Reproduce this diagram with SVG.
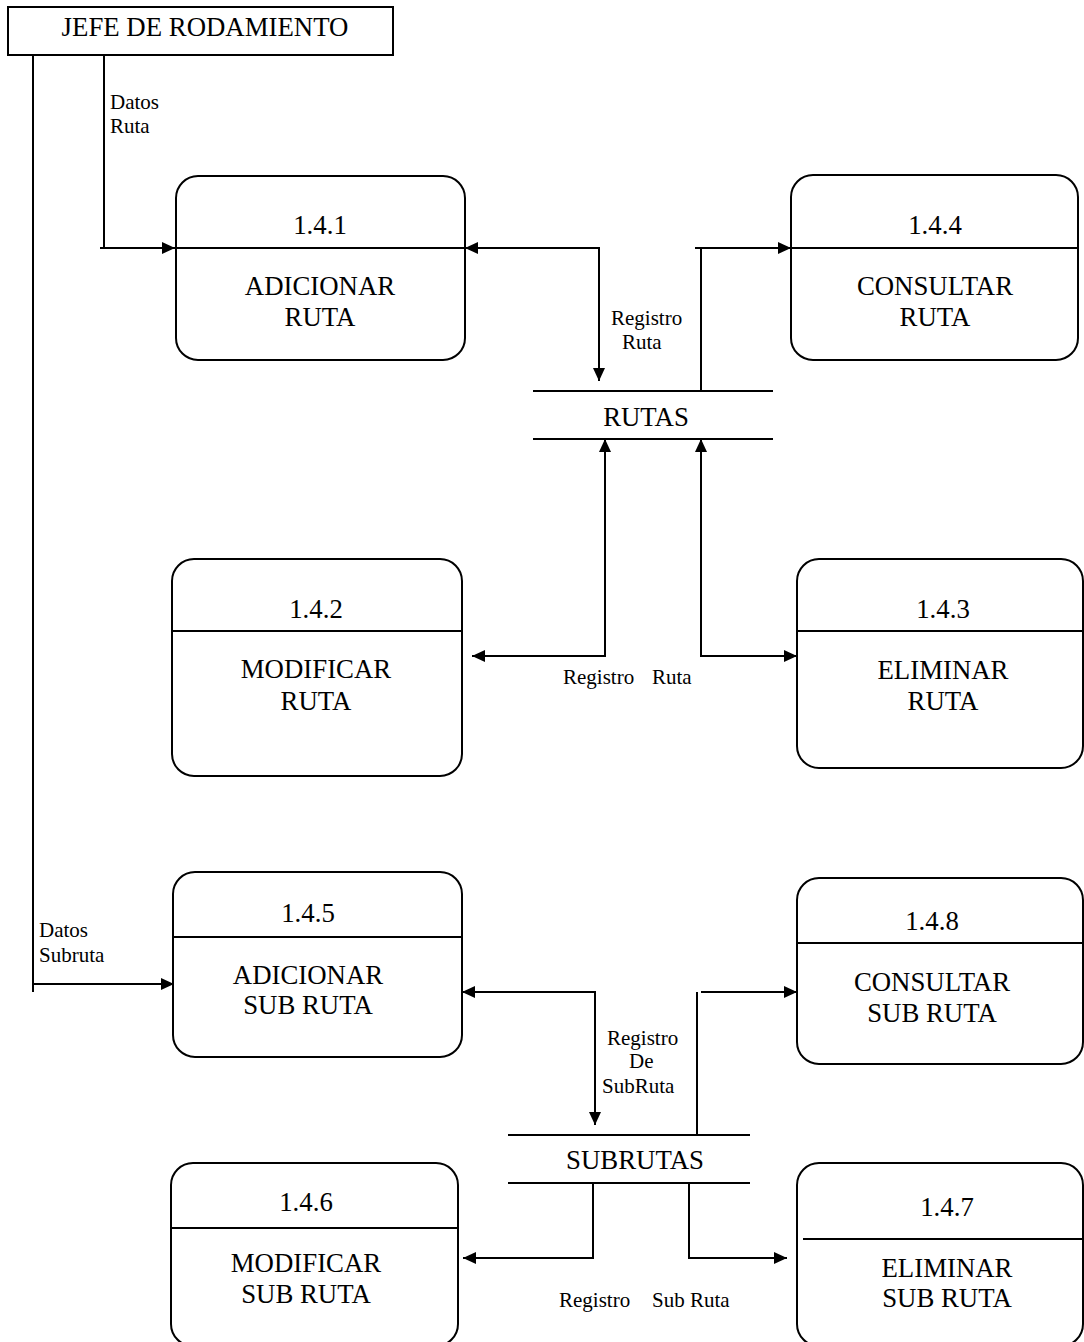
<svg xmlns="http://www.w3.org/2000/svg" width="1084" height="1342" viewBox="0 0 1084 1342">
<style>
  .box{fill:#fff;stroke:#000;stroke-width:2}
  .div{stroke:#000;stroke-width:2;fill:none}
  .con{stroke:#000;stroke-width:2;fill:none}
  .t{font-family:"Liberation Serif","Times New Roman",serif;font-size:26.8px;fill:#000;text-anchor:middle}
  .s{font-family:"Liberation Serif","Times New Roman",serif;font-size:21px;fill:#000}
</style>
<defs>
  <marker id="ah" markerUnits="userSpaceOnUse" markerWidth="13" markerHeight="12" refX="13" refY="6" orient="auto-start-reverse">
    <path d="M0,0 L13,6 L0,12 z" fill="#000"/>
  </marker>
</defs>
<rect width="1084" height="1342" fill="#fff"/>

<g id="connectors">
  <path class="con" d="M104,55 V248 M100,248 H175" marker-end="url(#ah)"/>
  <path class="con" d="M33,55 V992 M33,984 H174" marker-end="url(#ah)"/>
  <path class="con" d="M465,248 H599 V381" marker-start="url(#ah)" marker-end="url(#ah)"/>
  <path class="con" d="M701,391 V248 M695,248 H791" marker-end="url(#ah)"/>
  <path class="con" d="M605,439 V656 H472" marker-start="url(#ah)" marker-end="url(#ah)"/>
  <path class="con" d="M701,439 V656 H797" marker-start="url(#ah)" marker-end="url(#ah)"/>
  <path class="con" d="M462,992 H595 V1125" marker-start="url(#ah)" marker-end="url(#ah)"/>
  <path class="con" d="M697,1135 V992 M701,992 H797" marker-end="url(#ah)"/>
  <path class="con" d="M593,1182 V1258 H463" marker-end="url(#ah)"/>
  <path class="con" d="M689,1182 V1258 H787" marker-end="url(#ah)"/>
  <text class="s" x="110" y="109">Datos</text>
  <text class="s" x="110" y="133">Ruta</text>
  <text class="s" x="39" y="937">Datos</text>
  <text class="s" x="39" y="962">Subruta</text>
  <text class="s" x="611" y="325">Registro</text>
  <text class="s" x="622" y="349">Ruta</text>
  <text class="s" x="563" y="684">Registro</text>
  <text class="s" x="652" y="684">Ruta</text>
  <text class="s" x="607" y="1045">Registro</text>
  <text class="s" x="629" y="1068">De</text>
  <text class="s" x="602" y="1093">SubRuta</text>
  <text class="s" x="559" y="1307">Registro</text>
  <text class="s" x="652" y="1307">Sub Ruta</text>
</g>

<g id="jefe">
  <rect class="box" x="8" y="7" width="385" height="48"/>
  <text class="t" x="205" y="36">JEFE DE RODAMIENTO</text>
</g>

<g id="rutas">
  <line class="div" x1="533" y1="391" x2="773" y2="391"/>
  <line class="div" x1="533" y1="439" x2="773" y2="439"/>
  <text class="t" x="646" y="426">RUTAS</text>
</g>

<g id="subrutas">
  <line class="div" x1="508" y1="1135" x2="750" y2="1135"/>
  <line class="div" x1="508" y1="1183" x2="750" y2="1183"/>
  <text class="t" x="635" y="1169">SUBRUTAS</text>
</g>

<g id="p141">
  <rect class="box" x="176" y="176" width="289" height="184" rx="22" ry="22"/>
  <line class="div" x1="176" y1="248" x2="465" y2="248"/>
  <text class="t" x="320" y="234">1.4.1</text>
  <text class="t" x="320" y="295">ADICIONAR</text>
  <text class="t" x="320" y="326">RUTA</text>
</g>

<g id="p144">
  <rect class="box" x="791" y="175" width="287" height="185" rx="22" ry="22"/>
  <line class="div" x1="791" y1="248" x2="1078" y2="248"/>
  <text class="t" x="935" y="234">1.4.4</text>
  <text class="t" x="935" y="295">CONSULTAR</text>
  <text class="t" x="935" y="326">RUTA</text>
</g>

<g id="p142">
  <rect class="box" x="172" y="559" width="290" height="217" rx="22" ry="22"/>
  <line class="div" x1="172" y1="631" x2="462" y2="631"/>
  <text class="t" x="316" y="618">1.4.2</text>
  <text class="t" x="316" y="678">MODIFICAR</text>
  <text class="t" x="316" y="710">RUTA</text>
</g>

<g id="p143">
  <rect class="box" x="797" y="559" width="286" height="209" rx="22" ry="22"/>
  <line class="div" x1="797" y1="631" x2="1083" y2="631"/>
  <text class="t" x="943" y="618">1.4.3</text>
  <text class="t" x="943" y="679">ELIMINAR</text>
  <text class="t" x="943" y="710">RUTA</text>
</g>

<g id="p145">
  <rect class="box" x="173" y="872" width="289" height="185" rx="22" ry="22"/>
  <line class="div" x1="173" y1="937" x2="462" y2="937"/>
  <text class="t" x="308" y="922">1.4.5</text>
  <text class="t" x="308" y="984">ADICIONAR</text>
  <text class="t" x="308" y="1014">SUB RUTA</text>
</g>

<g id="p148">
  <rect class="box" x="797" y="878" width="286" height="186" rx="22" ry="22"/>
  <line class="div" x1="797" y1="943" x2="1083" y2="943"/>
  <text class="t" x="932" y="930">1.4.8</text>
  <text class="t" x="932" y="991">CONSULTAR</text>
  <text class="t" x="932" y="1022">SUB RUTA</text>
</g>

<g id="p146">
  <rect class="box" x="171" y="1163" width="287" height="183" rx="22" ry="22"/>
  <line class="div" x1="171" y1="1228" x2="458" y2="1228"/>
  <text class="t" x="306" y="1211">1.4.6</text>
  <text class="t" x="306" y="1272">MODIFICAR</text>
  <text class="t" x="306" y="1303">SUB RUTA</text>
</g>

<g id="p147">
  <rect class="box" x="797" y="1163" width="286" height="183" rx="22" ry="22"/>
  <line class="div" x1="803" y1="1239" x2="1083" y2="1239"/>
  <text class="t" x="947" y="1216">1.4.7</text>
  <text class="t" x="947" y="1277">ELIMINAR</text>
  <text class="t" x="947" y="1307">SUB RUTA</text>
</g>
</svg>
